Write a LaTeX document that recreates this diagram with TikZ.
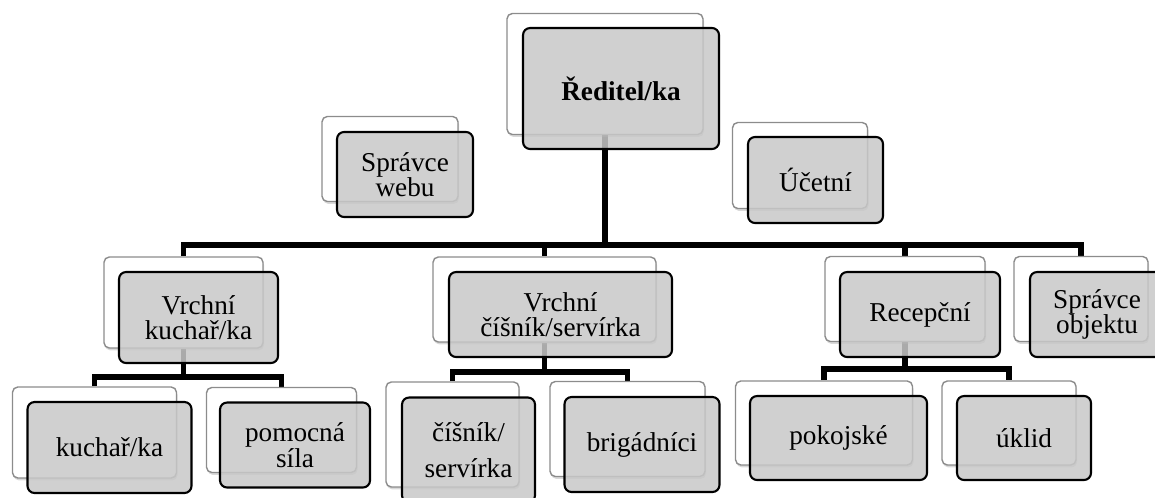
\documentclass[tikz,border=0pt]{standalone}
\usepackage{fontspec}
\setmainfont{Liberation Serif}
\usetikzlibrary{shadows,backgrounds}
\definecolor{boxgray}{RGB}{200,200,200}
\tikzstyle{back}=[rectangle,rounded corners=3pt,draw=black!45,line width=0.8pt,fill=white,drop shadow={shadow xshift=0.6pt,shadow yshift=-1.4pt,opacity=0.3}]
\tikzstyle{front}=[rectangle,rounded corners=4pt,draw=black,line width=1.2pt,fill=boxgray,fill opacity=0.85,text opacity=1,align=center,font=\fontsize{15.5}{14.5}\selectfont]
\tikzstyle{conn}=[line width=3pt,black]

\begin{document}
\begin{tikzpicture}[x=0.02cm,y=-0.02cm]
\useasboundingbox (0,0) rectangle (1155,497);
\clip (0,0) rectangle (1155,497);
\node[back,minimum width=3.92cm,minimum height=2.42cm] (dirB) at (605,74) {};
\node[front,minimum width=3.92cm,minimum height=2.42cm] (dir) at (621,88.5) {\textbf{Ředitel/ka}};
\node[back,minimum width=2.72cm,minimum height=1.7cm] (webB) at (390,159) {};
\node[front,minimum width=2.72cm,minimum height=1.7cm] (web) at (405,174.5) {Správce\\webu};
\node[back,minimum width=2.7cm,minimum height=1.72cm] (ucB) at (800,165.5) {};
\node[front,minimum width=2.7cm,minimum height=1.72cm] (uc) at (815.5,180) {Účetní};
\node[back,minimum width=3.18cm,minimum height=1.82cm] (vkB) at (183.5,302.5) {};
\node[front,minimum width=3.18cm,minimum height=1.82cm] (vk) at (198.5,317.5) {Vrchní\\kuchař/ka};
\node[back,minimum width=4.46cm,minimum height=1.7cm] (vcB) at (544.5,299.5) {};
\node[front,minimum width=4.46cm,minimum height=1.7cm] (vc) at (560.5,314.5) {Vrchní\\číšník/servírka};
\node[back,minimum width=3.2cm,minimum height=1.7cm] (recB) at (905,299) {};
\node[front,minimum width=3.2cm,minimum height=1.7cm] (rec) at (920,314.5) {Recepční};
\node[back,minimum width=2.68cm,minimum height=1.7cm] (objB) at (1081,299) {};
\node[front,minimum width=2.68cm,minimum height=1.7cm] (obj) at (1097,314.5) {Správce\\objektu};
\node[back,minimum width=3.28cm,minimum height=1.82cm] (kuchB) at (94.5,432.5) {};
\node[front,minimum width=3.28cm,minimum height=1.82cm] (kuch) at (109.5,447.5) {kuchař/ka};
\node[back,minimum width=3cm,minimum height=1.7cm] (pomB) at (281.5,430) {};
\node[front,minimum width=3cm,minimum height=1.7cm] (pom) at (295,445) {pomocná\\síla};
\node[back,minimum width=2.66cm,minimum height=2.1cm] (cisB) at (452.5,434.5) {};
\node[front,minimum width=2.66cm,minimum height=2.1cm] (cis) at (468.5,450) {číšník/\\[6pt]servírka};
\node[back,minimum width=3.1cm,minimum height=1.9cm] (brigB) at (627.5,429) {};
\node[front,minimum width=3.1cm,minimum height=1.9cm] (brig) at (642,444.5) {brigádníci};
\node[back,minimum width=3.54cm,minimum height=1.68cm] (pokB) at (824,423) {};
\node[front,minimum width=3.54cm,minimum height=1.68cm] (pok) at (838.5,438) {pokojské};
\node[back,minimum width=2.68cm,minimum height=1.68cm] (uklB) at (1009,423) {};
\node[front,minimum width=2.68cm,minimum height=1.68cm] (ukl) at (1024,438) {úklid};
\begin{pgfonlayer}{background}
\coordinate (mainbar) at (605,245);
\coordinate (kbar) at (183.5,377);
\coordinate (cbar) at (544.5,372);
\coordinate (rbar) at (905,369);
\draw[conn] (dirB.south) -- (mainbar);
\draw[conn] (vkB.north) |- (mainbar) -| (objB.north);
\draw[conn] (vcB.north) -- (vcB.north |- mainbar);
\draw[conn] (recB.north) -- (recB.north |- mainbar);
\draw[conn] (vkB.south) -- (kbar);
\draw[conn] (kuchB.north) |- (kbar) -| (pomB.north);
\draw[conn] (vcB.south) -- (cbar);
\draw[conn] (cisB.north) |- (cbar) -| (brigB.north);
\draw[conn] (recB.south) -- (rbar);
\draw[conn] (pokB.north) |- (rbar) -| (uklB.north);
\end{pgfonlayer}
\end{tikzpicture}
\end{document}
